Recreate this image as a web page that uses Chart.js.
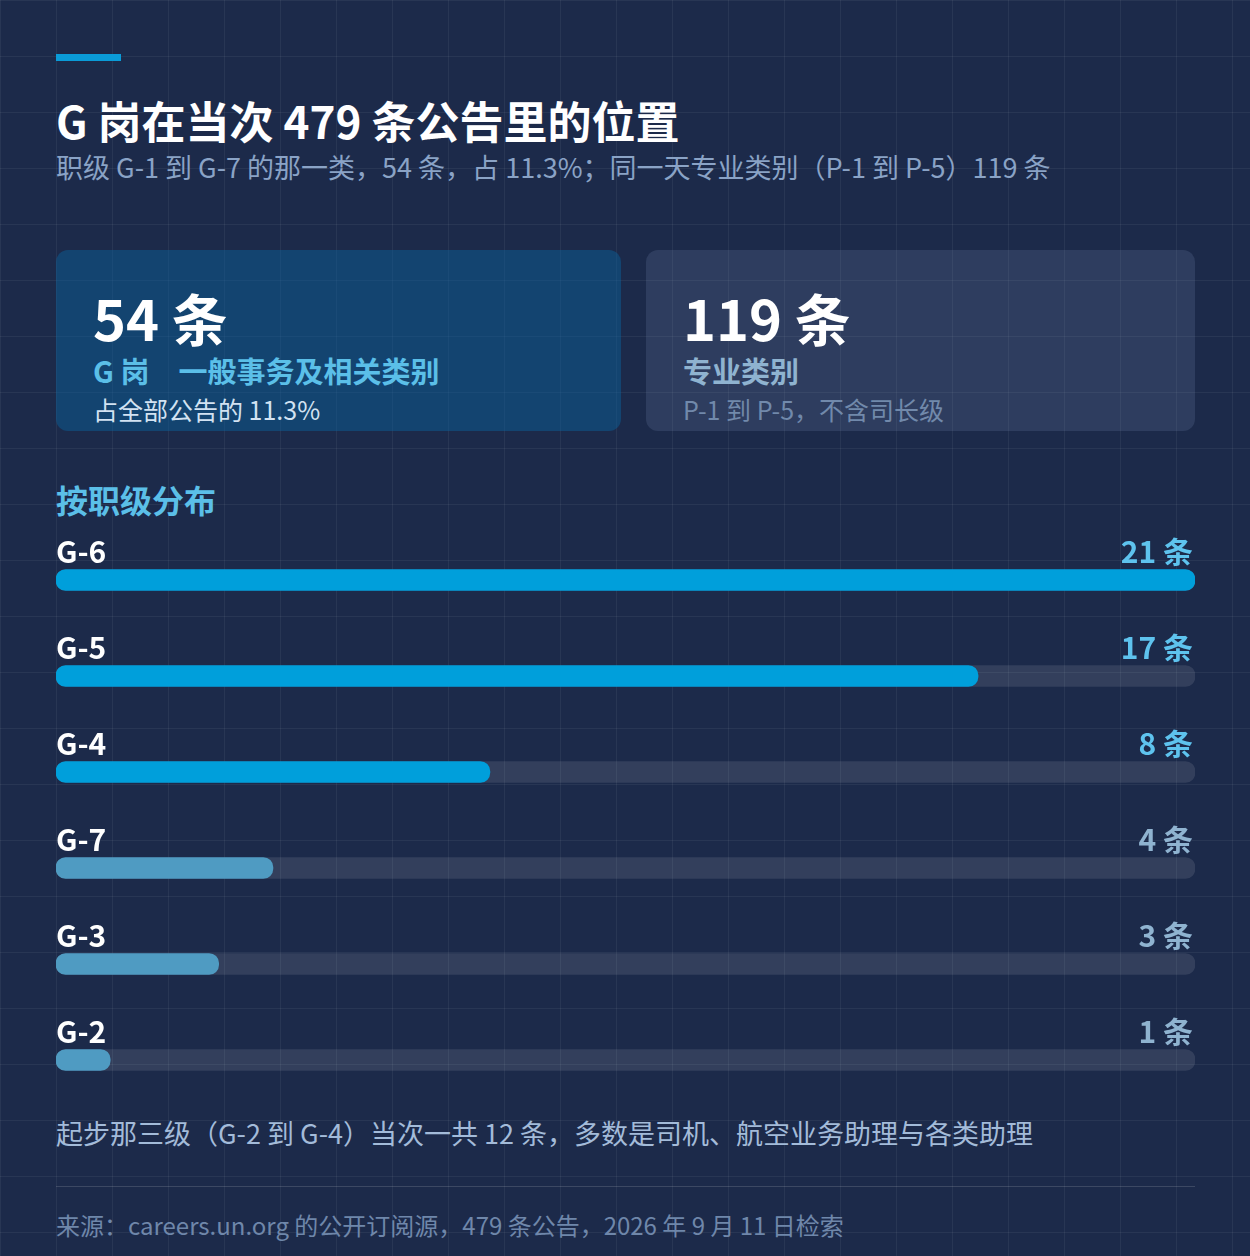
<!DOCTYPE html>
<html lang="zh-CN">
<head>
<meta charset="utf-8">
<script src="https://cdn.jsdelivr.net/npm/chart.js@4.4.1/dist/chart.umd.min.js"></script>
<style>
  html, body {
    margin: 0;
    padding: 0;
  }
  body {
    width: 1250px;
    height: 1256px;
    position: relative;
    overflow: hidden;
    font-family: "Noto Sans CJK SC", "Noto Sans", sans-serif;
    background-color: #1c2a4a;
    background-image:
      linear-gradient(rgba(255, 255, 255, 0.055) 1px, transparent 1px),
      linear-gradient(90deg, rgba(255, 255, 255, 0.055) 1px, transparent 1px);
    background-size: 56px 56px;
  }
  .abs { position: absolute; white-space: nowrap; }
  .accent { left: 56px; top: 54px; width: 65px; height: 7px; background: #0a9bd8; }
  .title { left: 56px; top: 90px; font-size: 44px; font-weight: 700; color: #ffffff; line-height: 60px; }
  .subtitle { left: 56px; top: 149px; font-size: 27px; color: #8aa3c6; line-height: 36px; }
  .card { top: 250px; height: 181px; border-radius: 12px; }
  .card.g { left: 56px; width: 565px; background: rgba(8, 100, 160, 0.45); }
  .card.p { left: 646px; width: 549px; background: rgba(120, 140, 180, 0.2); }
  .big { font-size: 56px; font-weight: 700; color: #ffffff; line-height: 66px; }
  .kind { font-size: 29px; font-weight: 700; line-height: 36px; }
  .note { font-size: 25px; line-height: 32px; }
  .section { left: 56px; top: 478px; font-size: 32px; font-weight: 700; color: #5bbfe8; line-height: 42px; }
  #chartBox { left: 56px; top: 532px; width: 1139px; height: 576px; }
  .foot { left: 56px; top: 1115px; font-size: 27px; color: #a3bbd9; line-height: 36px; }
  .rule { left: 56px; top: 1186px; width: 1139px; height: 1px; background: rgba(255, 255, 255, 0.14); }
  .source { left: 56px; top: 1208px; font-size: 24px; color: #6f87aa; line-height: 34px; }
</style>
</head>
<body>
<div class="abs accent"></div>
<div class="abs title">G 岗在当次 479 条公告里的位置</div>
<div class="abs subtitle">职级 G-1 到 G-7 的那一类，54 条，占 11.3%；同一天专业类别（P-1 到 P-5）119 条</div>

<div class="abs card g"></div>
<div class="abs big" style="left:93px;top:284px;">54 条</div>
<div class="abs kind" style="left:93px;top:352px;color:#5bbfe8;">G 岗　一般事务及相关类别</div>
<div class="abs note" style="left:93px;top:393px;color:#d2e2f2;">占全部公告的 11.3%</div>

<div class="abs card p"></div>
<div class="abs big" style="left:683px;top:284px;">119 条</div>
<div class="abs kind" style="left:683px;top:352px;color:#8fb3d0;">专业类别</div>
<div class="abs note" style="left:683px;top:393px;color:#7189ab;">P-1 到 P-5，不含司长级</div>

<div class="abs section">按职级分布</div>

<div class="abs" id="chartBox"><canvas id="gradeChart" width="1139" height="576"></canvas></div>

<div class="abs foot">起步那三级（G-2 到 G-4）当次一共 12 条，多数是司机、航空业务助理与各类助理</div>
<div class="abs rule"></div>
<div class="abs source">来源：careers.un.org 的公开订阅源，479 条公告，2026 年 9 月 11 日检索</div>

<script>
// grades as listed, largest first
const grades = ['G-6', 'G-5', 'G-4', 'G-7', 'G-3', 'G-2'];
const counts = [21, 17, 8, 4, 3, 1];
const unit = '条';

// first three rows are highlighted, the rest muted
const barColors = ['#009fdb', '#009fdb', '#009fdb', '#4f9bc2', '#4f9bc2', '#4f9bc2'];
const valueColors = ['#5ec3ee', '#5ec3ee', '#5ec3ee', '#8fb3d0', '#8fb3d0', '#8fb3d0'];

const maxCount = Math.max(...counts);

const rowLabels = {
  id: 'rowLabels',
  afterDatasetsDraw(chart) {
    const ctx = chart.ctx;
    const area = chart.chartArea;
    const meta = chart.getDatasetMeta(1);
    ctx.save();
    ctx.textBaseline = 'middle';
    ctx.font = 'bold 30px "Noto Sans CJK SC", sans-serif';
    meta.data.forEach((bar, i) => {
      const y = bar.y - 28;
      ctx.textAlign = 'left';
      ctx.fillStyle = '#ffffff';
      ctx.fillText(grades[i], area.left, y);
      ctx.textAlign = 'right';
      ctx.fillStyle = valueColors[i];
      ctx.fillText(counts[i] + ' ' + unit, area.right - 2, y);
    });
    ctx.restore();
  }
};

new Chart(document.getElementById('gradeChart').getContext('2d'), {
  type: 'bar',
  data: {
    labels: grades,
    datasets: [
      {
        label: 'track',
        data: grades.map(() => maxCount),
        backgroundColor: 'rgba(255, 255, 255, 0.1)',
        borderRadius: 10,
        borderSkipped: false,
        barThickness: 21,
        grouped: false,
        order: 2
      },
      {
        label: 'count',
        data: counts,
        backgroundColor: barColors,
        borderRadius: 10,
        borderSkipped: false,
        barThickness: 21,
        grouped: false,
        order: 1
      }
    ]
  },
  options: {
    indexAxis: 'y',
    responsive: false,
    animation: false,
    layout: { padding: 0 },
    plugins: {
      legend: { display: false },
      tooltip: { enabled: false }
    },
    scales: {
      x: { display: false, min: 0, max: maxCount },
      y: { display: false }
    }
  },
  plugins: [rowLabels]
});
</script>
</body>
</html>
